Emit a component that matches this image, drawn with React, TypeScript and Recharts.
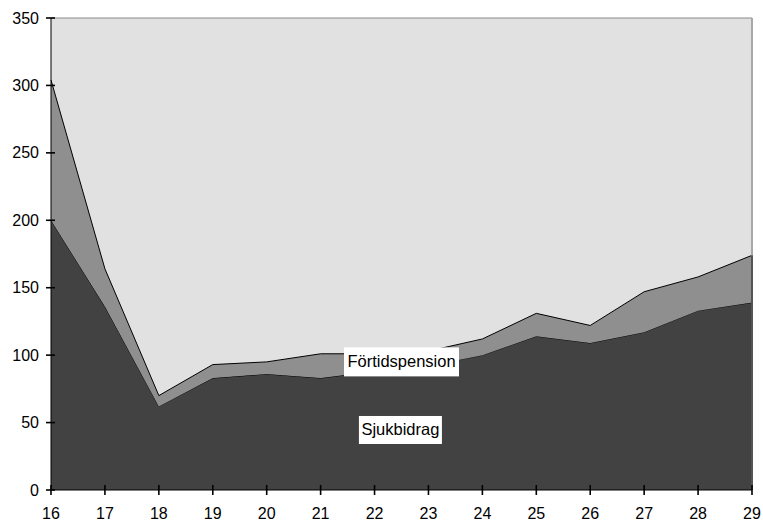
import { AreaChart, Area, XAxis, YAxis, CartesianGrid, ReferenceLine, ReferenceDot } from "recharts";

const years = [16, 17, 18, 19, 20, 21, 22, 23, 24, 25, 26, 27, 28, 29];
const sjukbidrag = [200, 136, 62, 83, 86, 83, 88, 92, 100, 114, 109, 117, 133, 139];
const fortidspension = [104, 28, 8, 10, 9, 18, 13, 11, 12, 17, 13, 30, 25, 35];
const yTicks = [0, 50, 100, 150, 200, 250, 300, 350];

const data = years.map((year, i) => ({
  year,
  sjukbidrag: sjukbidrag[i],
  fortidspension: fortidspension[i],
}));

const last = years.length - 1;
const FONT = "'Liberation Sans', Arial, sans-serif";

function YTick(props: any) {
  const { x, y, payload } = props;
  return (
    <text x={x} y={y} dy={5.5} textAnchor="end" fontSize={16} fontFamily={FONT} fill="#000">
      {payload.value}
    </text>
  );
}

function XTick(props: any) {
  const { x, y, payload } = props;
  return (
    <text x={x} y={y} dy={12} textAnchor="middle" fontSize={16} fontFamily={FONT} fill="#000">
      {payload.value}
    </text>
  );
}

// tick marks crossing the axis, drawn on top of the areas
const yMark = (p: any) => (
  <g>
    <path d={`M${p.cx - 5},${p.cy}H${p.cx + 4}`} stroke="#000" strokeWidth={1.6} fill="none" />
  </g>
);
const xMark = (p: any) => (
  <g>
    <path d={`M${p.cx},${p.cy - 5}V${p.cy + 5}`} stroke="#000" strokeWidth={1.6} fill="none" />
  </g>
);

function boxLabel(text: string, w: number, h: number) {
  return (props: any) => {
    const { cx, cy } = props;
    return (
      <g>
        <rect x={cx - w / 2} y={cy - h / 2} width={w} height={h} fill="#fff" />
        <text x={cx} y={cy} dy={5.5} textAnchor="middle" fontSize={16.5} fontFamily={FONT} fill="#000">
          {text}
        </text>
      </g>
    );
  };
}

export default function App() {
  return (
    <div style={{ position: "absolute", left: 0, top: 0, width: 763, height: 521, background: "#fff" }}>
      <AreaChart width={763} height={521} data={data} margin={{ top: 18, right: 11, bottom: 0, left: 0 }}>
        <CartesianGrid fill="#e1e1e1" stroke="none" />
        <XAxis
          dataKey="year"
          type="number"
          domain={[16, 29]}
          ticks={years}
          height={31}
          axisLine={{ stroke: "#000" }}
          tickLine={false}
          tickSize={0}
          tickMargin={17}
          tick={<XTick />}
          interval={0}
        />
        <YAxis
          domain={[0, 350]}
          ticks={yTicks}
          width={51}
          axisLine={{ stroke: "#000" }}
          tickLine={false}
          tickSize={0}
          tickMargin={12}
          tick={<YTick />}
          interval={0}
        />
        <ReferenceLine y={350} stroke="#8a8a8a" />
        <ReferenceLine x={29} stroke="#a8a8a8" strokeWidth={2} />
        <Area
          type="linear"
          dataKey="sjukbidrag"
          stackId="a"
          stroke="#000"
          strokeWidth={1}
          fill="#424242"
          fillOpacity={1}
          isAnimationActive={false}
        />
        <Area
          type="linear"
          dataKey="fortidspension"
          stackId="a"
          stroke="#000"
          strokeWidth={1}
          fill="#8f8f8f"
          fillOpacity={1}
          isAnimationActive={false}
        />
        <ReferenceLine
          segment={[
            { x: years[last], y: 0 },
            { x: years[last], y: sjukbidrag[last] + fortidspension[last] },
          ]}
          stroke="#000"
          ifOverflow="visible"
        />
        {yTicks.map((v) => (
          <ReferenceDot key={"y" + v} x={16} y={v} ifOverflow="visible" shape={yMark} />
        ))}
        {years.map((v) => (
          <ReferenceDot key={"x" + v} x={v} y={0} ifOverflow="visible" shape={xMark} />
        ))}
        <ReferenceDot x={22.5} y={95} shape={boxLabel("Förtidspension", 115, 29)} />
        <ReferenceDot x={22.48} y={44.5} shape={boxLabel("Sjukbidrag", 83, 28)} />
      </AreaChart>
    </div>
  );
}
